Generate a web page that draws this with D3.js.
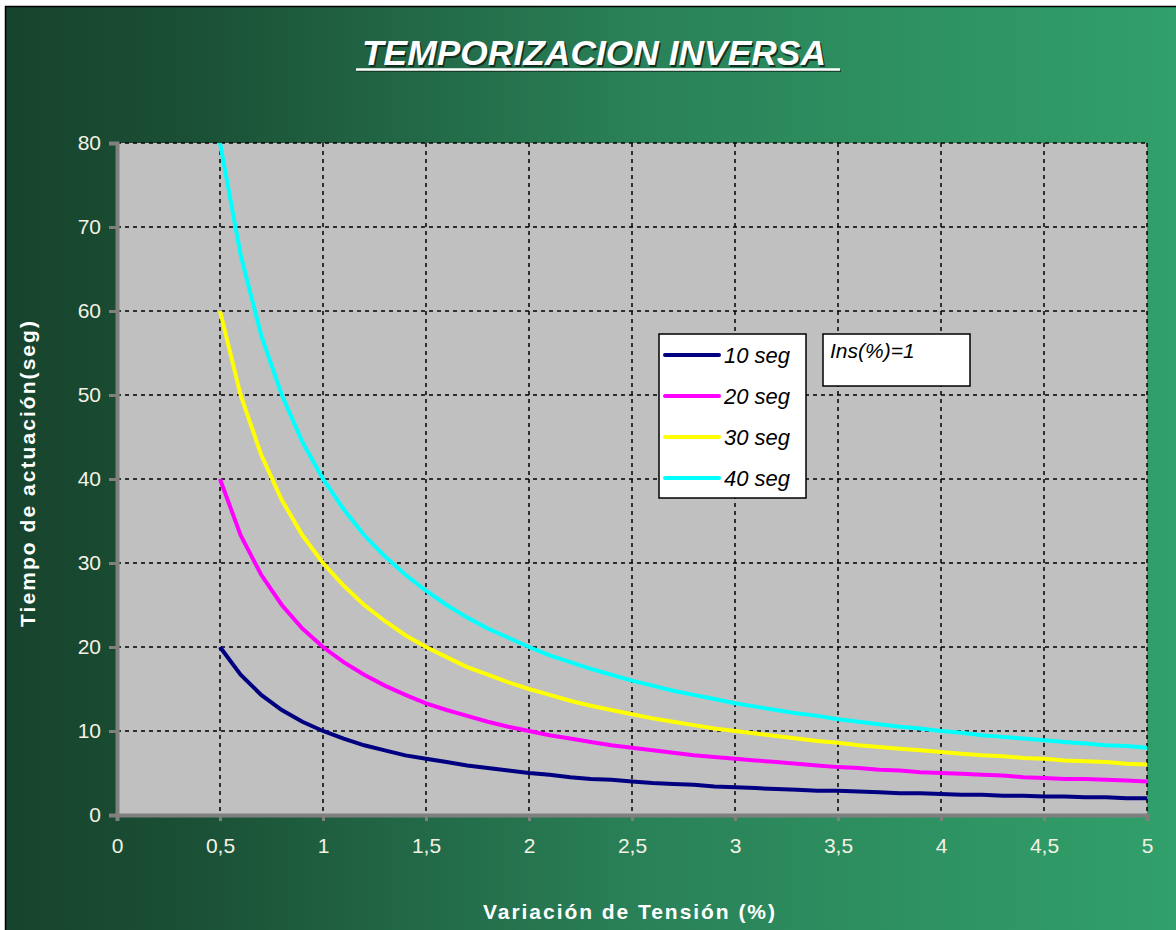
<!DOCTYPE html>
<html>
<head>
<meta charset="utf-8">
<script src="https://cdn.jsdelivr.net/npm/d3@7"></script>
<style>
  body { margin: 0; background: #ffffff; }
  svg text { font-family: "Liberation Sans", Arial, sans-serif; }
</style>
</head>
<body>
<div id="chart"></div>
<script>
// Data
var xValues = [0.5, 0.6, 0.7, 0.8, 0.9, 1.0, 1.1, 1.2, 1.3, 1.4, 1.5, 1.6, 1.7, 1.8, 1.9, 2.0,
  2.1, 2.2, 2.3, 2.4, 2.5, 2.6, 2.7, 2.8, 2.9, 3.0, 3.1, 3.2, 3.3, 3.4, 3.5, 3.6, 3.7, 3.8,
  3.9, 4.0, 4.1, 4.2, 4.3, 4.4, 4.5, 4.6, 4.7, 4.8, 4.9, 5.0];

var seg10 = [20, 16.7, 14.3, 12.5, 11.1, 10, 9.1, 8.3, 7.7, 7.1, 6.7, 6.3, 5.9, 5.6, 5.3, 5,
  4.8, 4.5, 4.3, 4.2, 4, 3.8, 3.7, 3.6, 3.4, 3.3, 3.2, 3.1, 3, 2.9, 2.9, 2.8, 2.7, 2.6,
  2.6, 2.5, 2.4, 2.4, 2.3, 2.3, 2.2, 2.2, 2.1, 2.1, 2, 2];
var seg20 = [40, 33.3, 28.6, 25, 22.2, 20, 18.2, 16.7, 15.4, 14.3, 13.3, 12.5, 11.8, 11.1, 10.5, 10,
  9.5, 9.1, 8.7, 8.3, 8, 7.7, 7.4, 7.1, 6.9, 6.7, 6.5, 6.3, 6.1, 5.9, 5.7, 5.6, 5.4, 5.3,
  5.1, 5, 4.9, 4.8, 4.7, 4.5, 4.4, 4.3, 4.3, 4.2, 4.1, 4];
var seg30 = [60, 50, 42.9, 37.5, 33.3, 30, 27.3, 25, 23.1, 21.4, 20, 18.8, 17.6, 16.7, 15.8, 15,
  14.3, 13.6, 13, 12.5, 12, 11.5, 11.1, 10.7, 10.3, 10, 9.7, 9.4, 9.1, 8.8, 8.6, 8.3, 8.1, 7.9,
  7.7, 7.5, 7.3, 7.1, 7, 6.8, 6.7, 6.5, 6.4, 6.3, 6.1, 6];
var seg40 = [80, 66.7, 57.1, 50, 44.4, 40, 36.4, 33.3, 30.8, 28.6, 26.7, 25, 23.5, 22.2, 21.1, 20,
  19, 18.2, 17.4, 16.7, 16, 15.4, 14.8, 14.3, 13.8, 13.3, 12.9, 12.5, 12.1, 11.8, 11.4, 11.1, 10.8, 10.5,
  10.3, 10, 9.8, 9.5, 9.3, 9.1, 8.9, 8.7, 8.5, 8.3, 8.2, 8];

var seriesNames = ["10 seg", "20 seg", "30 seg", "40 seg"];
var seriesColors = ["#000080", "#ff00ff", "#ffff00", "#00ffff"];
var allSeries = [seg10, seg20, seg30, seg40];

var xTicks = [0, 0.5, 1, 1.5, 2, 2.5, 3, 3.5, 4, 4.5, 5];
var yTicks = [0, 10, 20, 30, 40, 50, 60, 70, 80];

// Chart setup
var svgWidth = 1176;
var svgHeight = 930;
var margin = { top: 143, right: 29, bottom: 115, left: 117 };
var width = svgWidth - margin.left - margin.right;
var height = svgHeight - margin.top - margin.bottom;

var svg = d3.select("#chart").append("svg")
  .attr("width", svgWidth)
  .attr("height", svgHeight);

// background gradient
var defs = svg.append("defs");
var grad = defs.append("linearGradient").attr("id", "bg").attr("x1", "0%").attr("x2", "100%");
grad.append("stop").attr("offset", "0%").attr("stop-color", "#17432d");
grad.append("stop").attr("offset", "15%").attr("stop-color", "#1a4f35");
grad.append("stop").attr("offset", "55%").attr("stop-color", "#2a8258");
grad.append("stop").attr("offset", "100%").attr("stop-color", "#31a06a");

svg.append("rect").attr("x", 0).attr("y", 0).attr("width", svgWidth).attr("height", svgHeight)
  .attr("fill", "#ffffff");
svg.append("rect").attr("x", 5).attr("y", 6).attr("width", svgWidth - 5).attr("height", svgHeight - 6)
  .attr("fill", "url(#bg)");
svg.append("line").attr("x1", 5).attr("x2", svgWidth).attr("y1", 6.5).attr("y2", 6.5)
  .attr("stroke", "#000").attr("stroke-width", 1.5);
svg.append("line").attr("x1", 5.5).attr("x2", 5.5).attr("y1", 6).attr("y2", svgHeight)
  .attr("stroke", "#000").attr("stroke-width", 1.5);

// title, white with a dark shadow, condensed
[["#12301f", 1.5], ["#ffffff", 0]].forEach(function(p){
  svg.append("text")
    .attr("x", 362 + p[1]).attr("y", 65 + p[1])
    .attr("textLength", 464).attr("lengthAdjust", "spacingAndGlyphs")
    .style("font-size", "35px").style("font-weight", "bold").style("font-style", "italic")
    .style("font-family", "'Liberation Sans Narrow', 'Liberation Sans', Arial, sans-serif")
    .attr("fill", p[0])
    .text("TEMPORIZACION INVERSA");
});
svg.append("line").attr("x1", 356).attr("x2", 840).attr("y1", 69.5).attr("y2", 69.5)
  .attr("stroke", "#12301f").attr("stroke-width", 1.5).attr("transform", "translate(1,1.5)");
svg.append("line").attr("x1", 356).attr("x2", 840).attr("y1", 69.5).attr("y2", 69.5)
  .attr("stroke", "#ffffff").attr("stroke-width", 2.5);

var g = svg.append("g")
  .attr("transform", "translate(" + margin.left + "," + margin.top + ")");

var xScale = d3.scaleLinear().domain([0, 5]).range([0, width]);
var yScale = d3.scaleLinear().domain([0, 80]).range([height, 0]);

// plot area
g.append("rect").attr("width", width).attr("height", height).attr("fill", "#c0c0c0");

// grid
g.selectAll(".hgrid").data(yTicks.filter(function(d){ return d > 0; }))
  .enter().append("line")
  .attr("x1", 0).attr("x2", width)
  .attr("y1", function(d){ return yScale(d); }).attr("y2", function(d){ return yScale(d); })
  .attr("stroke", "#000").attr("stroke-width", 1.5).attr("stroke-dasharray", "4,4");
g.selectAll(".vgrid").data(xTicks.filter(function(d){ return d > 0; }))
  .enter().append("line")
  .attr("y1", 0).attr("y2", height)
  .attr("x1", function(d){ return xScale(d); }).attr("x2", function(d){ return xScale(d); })
  .attr("stroke", "#000").attr("stroke-width", 1.5).attr("stroke-dasharray", "4,4");

// axes
var bottomAxis = d3.axisBottom(xScale).tickValues(xTicks).tickSize(6).tickPadding(17)
  .tickFormat(function(d){ return String(d).replace(".", ","); });
var leftAxis = d3.axisLeft(yScale).tickValues(yTicks).tickSize(8).tickPadding(8);

var xAxisG = g.append("g").attr("transform", "translate(0," + height + ")").call(bottomAxis);
var yAxisG = g.append("g").call(leftAxis);

[xAxisG, yAxisG].forEach(function(ax){
  ax.select(".domain").attr("stroke", "#808080").attr("stroke-width", 4);
  ax.selectAll(".tick line").attr("stroke", "#808080").attr("stroke-width", 3);
  ax.selectAll(".tick text")
    .attr("fill", "#f4f2e4")
    .style("font-size", "21px")
    .style("font-family", "'Liberation Sans', Arial, sans-serif");
});

// lines
var line = d3.line()
  .x(function(d, i){ return xScale(xValues[i]); })
  .y(function(d){ return yScale(d); });

allSeries.forEach(function(s, i){
  g.append("path").datum(s)
    .attr("fill", "none")
    .attr("stroke", seriesColors[i])
    .attr("stroke-width", 4)
    .attr("d", line);
});

// axis titles
svg.append("text")
  .attr("transform", "translate(35," + 474 + ") rotate(-90)")
  .attr("text-anchor", "middle")
  .attr("textLength", 306).attr("lengthAdjust", "spacing")
  .style("font-size", "21px").style("font-weight", "bold")
  .attr("fill", "#ffffff")
  .text("Tiempo de actuación(seg)");

svg.append("text")
  .attr("x", 629).attr("y", 919)
  .attr("text-anchor", "middle")
  .attr("textLength", 292).attr("lengthAdjust", "spacing")
  .style("font-size", "21px").style("font-weight", "bold")
  .attr("fill", "#ffffff")
  .text("Variación de Tensión (%)");

// legend
var legend = svg.append("g").attr("transform", "translate(659,334)");
legend.append("rect").attr("width", 147).attr("height", 164)
  .attr("fill", "#ffffff").attr("stroke", "#000").attr("stroke-width", 1.5);
seriesNames.forEach(function(name, i){
  var yy = 21 + i * 41;
  legend.append("line").attr("x1", 6).attr("x2", 60).attr("y1", yy).attr("y2", yy)
    .attr("stroke", seriesColors[i]).attr("stroke-width", 4).attr("stroke-linecap", "round");
  legend.append("text").attr("x", 65).attr("y", yy + 8)
    .style("font-size", "22px").style("font-style", "italic")
    .attr("fill", "#000")
    .text(name);
});

// Ins box
var insBox = svg.append("g").attr("transform", "translate(823,334)");
insBox.append("rect").attr("width", 147).attr("height", 52)
  .attr("fill", "#ffffff").attr("stroke", "#000").attr("stroke-width", 1.5);
insBox.append("text").attr("x", 7).attr("y", 24)
  .style("font-size", "21px").style("font-style", "italic")
  .attr("fill", "#000")
  .text("Ins(%)=1");
</script>
</body>
</html>
